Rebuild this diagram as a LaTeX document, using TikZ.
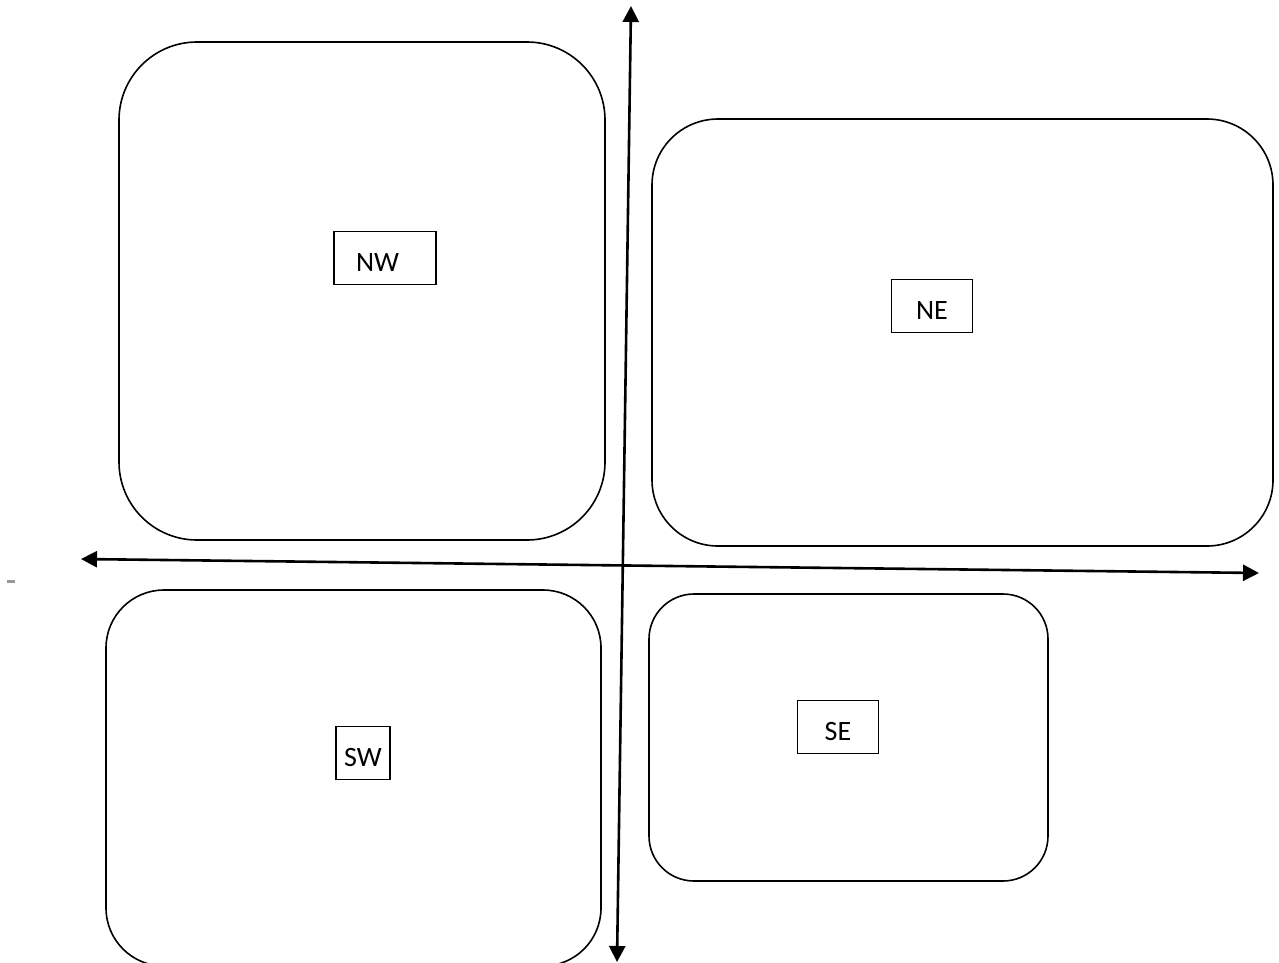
\documentclass[tikz,border=0pt]{standalone}
\usepackage{fontspec}
\setmainfont{Carlito}
\usetikzlibrary{arrows.meta}
\begin{document}
\begin{tikzpicture}[x=1pt,y=-1pt,
  region/.style={draw=black, line width=1.6pt, inner sep=0pt},
  tag/.style={draw=black, line width=1.4pt, inner sep=0pt, minimum height=53pt, text height=26pt, text depth=0pt, font=\fontsize{28}{32}\selectfont},
  axis/.style={line width=2.6pt, {Triangle[length=16pt,width=16pt]}-{Triangle[length=16pt,width=16pt]}}]
\useasboundingbox (0,0) rectangle (1279,962);
% regions
\node[region, rounded corners=78pt, minimum width=486pt, minimum height=498pt] (nw) at (362,291) {};
\node[region, rounded corners=66pt, minimum width=621pt, minimum height=427pt] (ne) at (962.5,332.5) {};
\node[region, rounded corners=58pt, minimum width=495pt, minimum height=376pt] (sw) at (353.5,778) {};
\node[region, rounded corners=45pt, minimum width=399pt, minimum height=287pt] (se) at (848.5,737.5) {};
% labels
\node[tag, text width=58pt, inner xsep=22pt, align=left] (nwl) at (385,258) {NW};
\node[tag, minimum width=81pt] (nel) at (932,306) {NE};
\node[tag, minimum width=54pt] (swl) at (363,753) {SW};
\node[tag, minimum width=81pt] (sel) at (838,727) {SE};
% axes
\coordinate (top) at (631,6);
\coordinate (bottom) at (617,962);
\coordinate (left) at (81,559);
\coordinate (right) at (1259,573);
\draw[axis] (bottom) -- (top);
\draw[axis] (left) -- (right);
% stray mark
\coordinate (m1) at (7,581.5);
\coordinate (m2) at (15,581.5);
\draw[line width=2.5pt, gray!80] (m1) -- (m2);
\end{tikzpicture}
\end{document}
